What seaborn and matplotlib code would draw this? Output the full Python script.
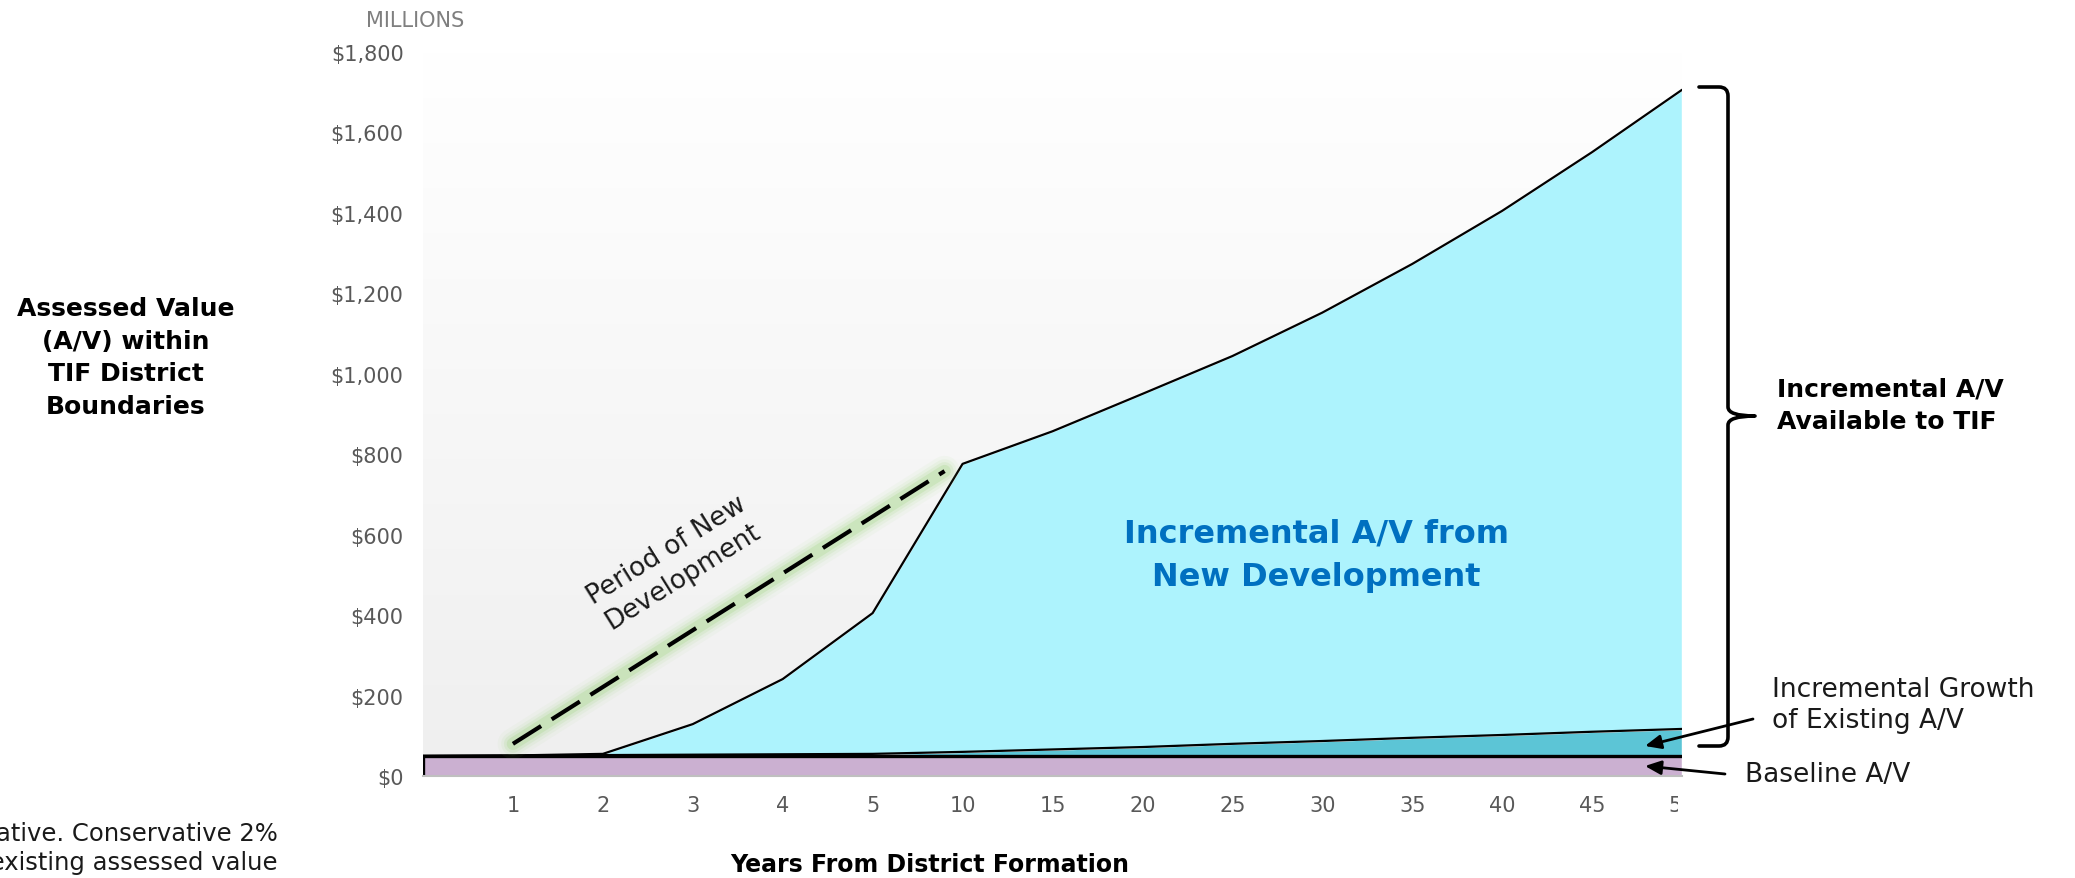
import numpy as np
import pandas as pd
import seaborn as sns
import matplotlib.pyplot as plt
from matplotlib.path import Path
from matplotlib.patches import PathPatch
from matplotlib.colors import LinearSegmentedColormap
from matplotlib.transforms import Bbox, TransformedBbox

#_______Data (millions of $)_______
years = [0, 1, 2, 3, 4, 5, 10, 15, 20, 25, 30, 35, 40, 45, 50]
baseline = [50, 50, 50, 50, 50, 50, 50, 50, 50, 50, 50, 50, 50, 50, 50]
existing_growth = [0, 1, 2, 3, 4, 5, 10, 16, 22, 30, 37, 45, 52, 60, 67]
new_dev = [0, 0, 3, 76, 187, 350, 716, 791, 878, 964, 1065, 1178, 1303, 1441, 1589]
y_ticks = [0, 200, 400, 600, 800, 1000, 1200, 1400, 1600, 1800]

# annotation line for the "period of new development"
dev_line_x = [1.0, 5.8]
dev_line_y = [80, 758]

#_______Style_______
sns.set_theme(style='white')
plt.rcParams['font.family'] = ['DejaVu Sans']

W, H = 2075, 879
fig = plt.figure(figsize=(W / 100, H / 100), dpi=100)
fig.patch.set_facecolor('white')

def fx(px):
    return px / W

def fy(py):
    return 1 - py / H

ax = fig.add_axes([fx(423), fy(777), (1682 - 423) / W, (777 - 53) / H])

pos = np.arange(len(years))
df = pd.DataFrame({'pos': pos, 'baseline': baseline,
                   'growth': existing_growth, 'new': new_dev})
df['top_base'] = df['baseline']
df['top_growth'] = df['baseline'] + df['growth']
df['top_all'] = df['top_growth'] + df['new']

#_______Background gradient_______
grad = np.linspace(0, 1, 256).reshape(-1, 1)
bg = LinearSegmentedColormap.from_list('bg', ['#efefef', '#ffffff'])
ax.imshow(grad, extent=[0, len(years) - 1, 0, 1800], aspect='auto',
          cmap=bg, origin='lower', zorder=0)

#_______Stacked areas_______
ax.stackplot(df['pos'], df['baseline'], df['growth'], df['new'],
             colors=['#cbb0d1', '#5cc5d6', '#adf3fd'], zorder=2)

sns.lineplot(data=df, x='pos', y='top_all', color='black', lw=1.6, ax=ax, zorder=3)
sns.lineplot(data=df, x='pos', y='top_growth', color='black', lw=1.6, ax=ax, zorder=3)
sns.lineplot(data=df, x='pos', y='top_base', color='black', lw=2.4, ax=ax, zorder=4)
ax.plot([pos[0], pos[0]], [0, baseline[0]], color='black', lw=2.4, zorder=4)

#_______Axes_______
ax.set_xlim(0, len(years) - 1)
ax.set_ylim(0, 1800)
ax.set_xticks(pos[1:])
ax.set_xticklabels([str(y) for y in years[1:]])
ax.set_yticks(y_ticks)
ax.set_yticklabels(['${:,}'.format(v) for v in y_ticks])
ax.set_xlabel('')
ax.set_ylabel('')
for s in ['top', 'right', 'left']:
    ax.spines[s].set_visible(False)
ax.spines['bottom'].set_color('#bfbfbf')
ax.spines['bottom'].set_linewidth(1.5)
ax.spines['bottom'].set_zorder(5)
ax.tick_params(axis='y', length=0, pad=14, labelsize=15, labelcolor='#595959')
ax.tick_params(axis='x', length=0, pad=14, labelsize=15, labelcolor='#595959')
# the last label is cut at the chart edge
last = ax.get_xticklabels()[-1]
last.set_clip_box(TransformedBbox(Bbox([[-0.1, -0.3], [0.9968, 0.1]]), ax.transAxes))
last.set_clip_on(True)

#_______Period of new development (glow + dashes)_______
for lw, a in [(22, 0.05), (17, 0.08), (13, 0.12), (9, 0.2)]:
    ax.plot(dev_line_x, dev_line_y, color='#8fcf6a', lw=lw, alpha=a,
            solid_capstyle='round', zorder=5)
ax.plot(dev_line_x, dev_line_y, color='black', lw=3, dashes=(8, 3), zorder=6)
fig.text(fx(675), fy(564), 'Period of New\nDevelopment', rotation=32,
         ha='center', va='center', rotation_mode='anchor', fontsize=19,
         color='#1a1a1a', linespacing=1.25)

#_______Texts_______
fig.text(fx(415), fy(21), 'MILLIONS', ha='center', va='center',
         fontsize=15, color='#7f7f7f')
fig.text(fx(126), fy(358), 'Assessed Value\n(A/V) within\nTIF District\nBoundaries',
         ha='center', va='center', fontsize=18, fontweight='bold',
         color='black', linespacing=1.45)
fig.text(fx(1316), fy(556), 'Incremental A/V from\nNew Development',
         ha='center', va='center', fontsize=23, fontweight='bold',
         color='#0070c0', linespacing=1.5)
fig.text(fx(930), fy(865), 'Years From District Formation', ha='center',
         va='center', fontsize=17, fontweight='bold', color='black')
fig.text(fx(1777), fy(406), 'Incremental A/V\nAvailable to TIF', ha='left',
         va='center', fontsize=18, fontweight='bold', color='black',
         linespacing=1.45)
fig.text(fx(1772), fy(706), 'Incremental Growth\nof Existing A/V', ha='left',
         va='center', fontsize=19, color='#1a1a1a', linespacing=1.25)
fig.text(fx(1745), fy(775), 'Baseline A/V', ha='left', va='center',
         fontsize=19, color='#1a1a1a')
fig.text(fx(278), fy(834), 'Illustrative. Conservative 2%', ha='right',
         va='center', fontsize=17.5, color='#1a1a1a')
fig.text(fx(278), fy(863), 'growth of existing assessed value', ha='right',
         va='center', fontsize=17.5, color='#1a1a1a')

#_______Arrows_______
arrow = dict(arrowstyle='-|>,head_length=0.8,head_width=0.35', color='black',
             lw=2, shrinkA=0, shrinkB=0)
fig.add_artist(plt.Annotation('', xy=(fx(1645), fy(747)), xytext=(fx(1753), fy(720)),
                              xycoords='figure fraction', arrowprops=arrow))
fig.add_artist(plt.Annotation('', xy=(fx(1645), fy(767)), xytext=(fx(1725), fy(775)),
                              xycoords='figure fraction', arrowprops=arrow))

#_______Curly brace_______
def brace(x0, x1, xt, ytop, ytip, ybot, r=9):
    pts = [(x0, ytop), (x1 - r, ytop), (x1, ytop), (x1, ytop + r),
           (x1, ytip - r), (x1, ytip), (xt, ytip),
           (x1, ytip), (x1, ytip + r),
           (x1, ybot - r), (x1, ybot), (x1 - r, ybot), (x0, ybot)]
    codes = [Path.MOVETO, Path.LINETO, Path.CURVE3, Path.CURVE3,
             Path.LINETO, Path.CURVE3, Path.CURVE3,
             Path.CURVE3, Path.CURVE3,
             Path.LINETO, Path.CURVE3, Path.CURVE3, Path.LINETO]
    verts = [(fx(a), fy(b)) for a, b in pts]
    return PathPatch(Path(verts, codes), transform=fig.transFigure, fill=False,
                     lw=2.6, ec='black', capstyle='round', joinstyle='round')

fig.add_artist(brace(1699, 1728, 1755, 88, 417, 747))

fig.savefig('out.png', dpi=100, facecolor='white')
